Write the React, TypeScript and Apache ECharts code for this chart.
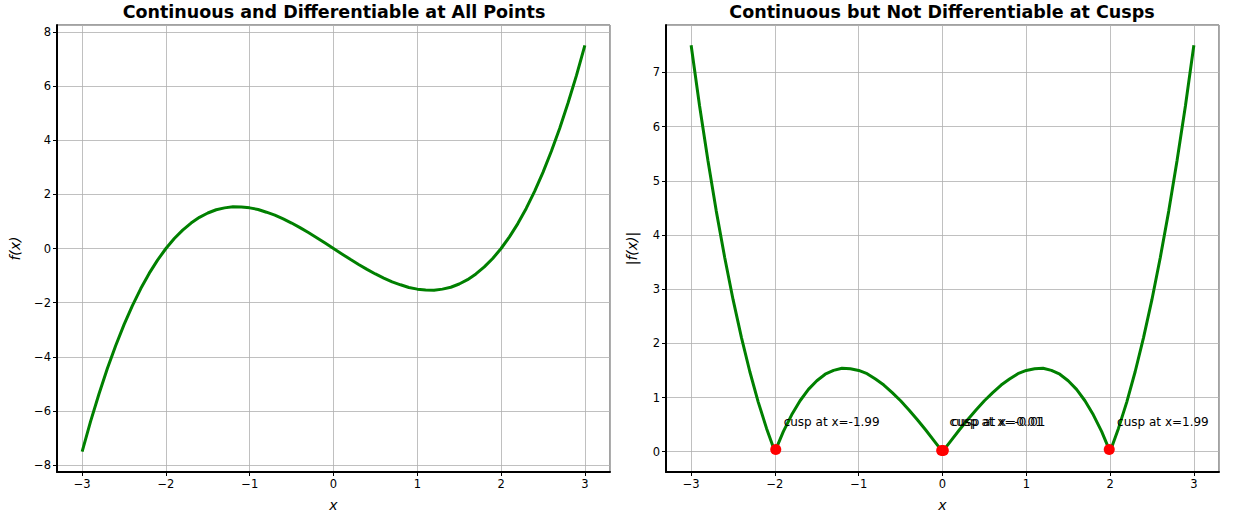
import React, { useEffect, useRef } from 'react';
import * as echarts from 'echarts';

const xValues = [
  -3.0, -2.9, -2.8, -2.7, -2.6, -2.5, -2.4, -2.3, -2.2, -2.1,
  -2.0, -1.9, -1.8, -1.7, -1.6, -1.5, -1.4, -1.3, -1.2, -1.1,
  -1.0, -0.9, -0.8, -0.7, -0.6, -0.5, -0.4, -0.3, -0.2, -0.1,
  0.0, 0.1, 0.2, 0.3, 0.4, 0.5, 0.6, 0.7, 0.8, 0.9,
  1.0, 1.1, 1.2, 1.3, 1.4, 1.5, 1.6, 1.7, 1.8, 1.9,
  2.0, 2.1, 2.2, 2.3, 2.4, 2.5, 2.6, 2.7, 2.8, 2.9, 3.0,
];

const fValues = [
  -7.5, -6.39, -5.38, -4.44, -3.59, -2.81, -2.11, -1.48, -0.92, -0.43,
  0.0, 0.37, 0.68, 0.94, 1.15, 1.31, 1.43, 1.5, 1.54, 1.53,
  1.5, 1.44, 1.34, 1.23, 1.09, 0.94, 0.77, 0.59, 0.4, 0.2,
  0.0, -0.2, -0.4, -0.59, -0.77, -0.94, -1.09, -1.23, -1.34, -1.44,
  -1.5, -1.53, -1.54, -1.5, -1.43, -1.31, -1.15, -0.94, -0.68, -0.37,
  0.0, 0.43, 0.92, 1.48, 2.11, 2.81, 3.59, 4.44, 5.38, 6.39, 7.5,
];

const absValues = [
  7.5, 6.39, 5.38, 4.44, 3.59, 2.81, 2.11, 1.48, 0.92, 0.43,
  0.0, 0.37, 0.68, 0.94, 1.15, 1.31, 1.43, 1.5, 1.54, 1.53,
  1.5, 1.44, 1.34, 1.23, 1.09, 0.94, 0.77, 0.59, 0.4, 0.2,
  0.0, 0.2, 0.4, 0.59, 0.77, 0.94, 1.09, 1.23, 1.34, 1.44,
  1.5, 1.53, 1.54, 1.5, 1.43, 1.31, 1.15, 0.94, 0.68, 0.37,
  0.0, 0.43, 0.92, 1.48, 2.11, 2.81, 3.59, 4.44, 5.38, 6.39, 7.5,
];

const cuspX = [-1.99, -0.01, 0.01, 1.99];
const cuspY = [0.04, 0.02, 0.02, 0.04];
const cuspLabels = ['cusp at x=-1.99', 'cusp at x=-0.01', 'cusp at x=0.01', 'cusp at x=1.99'];
const cuspLabelOffsetX = 0.1;
const cuspLabelY = 0.5;

const titles = ['Continuous and Differentiable at All Points', 'Continuous but Not Differentiable at Cusps'];

const FONT = 'DejaVu Sans';
const fmt = (v: number) => String(v).replace('-', '\u2212');

export default function App() {
  const ref = useRef<HTMLDivElement>(null);
  useEffect(() => {
    if (!ref.current) return;
    const chart = echarts.init(ref.current, undefined, { renderer: 'svg' });

    const labelStyle = {
      show: true,
      showMinLabel: false,
      showMaxLabel: false,
      margin: 6,
      fontFamily: FONT,
      fontSize: 11.5,
      color: '#000',
      formatter: fmt,
    };
    const lineAxis = { show: true, onZero: false, lineStyle: { color: '#000', width: 2 } };
    const tick = { show: true, length: 4, lineStyle: { color: '#000', width: 1 } };
    const split = { show: true, lineStyle: { color: '#b0b0b0', width: 0.8 } };
    const nameStyle = { fontFamily: FONT, fontSize: 14, fontStyle: 'italic', color: '#000' };

    const xAxisBase = (gridIndex: number) => ({
      type: 'value' as const,
      gridIndex,
      min: -3.3,
      max: 3.3,
      splitNumber: 6,
      name: 'x',
      nameLocation: 'middle' as const,
      nameGap: 26,
      nameTextStyle: nameStyle,
      axisLine: lineAxis,
      axisTick: tick,
      axisLabel: labelStyle,
      splitLine: split,
    });

    const titleStyle = { fontFamily: FONT, fontSize: 17.5, fontWeight: 'bold', color: '#000' };

    const option = {
      animation: false,
      backgroundColor: '#fff',
      title: [
        { text: titles[0], left: 334, top: 3, padding: 0, textAlign: 'center', textStyle: titleStyle },
        { text: titles[1], left: 942, top: 3, padding: 0, textAlign: 'center', textStyle: titleStyle },
      ],
      grid: [
        { left: 57, top: 25, width: 553, height: 448, show: true, borderColor: '#444', borderWidth: 1 },
        { left: 666, top: 25, width: 553, height: 448, show: true, borderColor: '#444', borderWidth: 1 },
      ],
      xAxis: [xAxisBase(0), xAxisBase(1)],
      yAxis: [
        {
          type: 'value',
          gridIndex: 0,
          min: -8.25,
          max: 8.25,
          splitNumber: 8,
          name: 'f(x)',
          nameLocation: 'middle',
          nameGap: 35,
          nameRotate: 90,
          nameTextStyle: nameStyle,
          axisLine: lineAxis,
          axisTick: tick,
          axisLabel: labelStyle,
          splitLine: split,
        },
        {
          type: 'value',
          gridIndex: 1,
          min: -0.375,
          max: 7.875,
          splitNumber: 8,
          name: '|f(x)|',
          nameLocation: 'middle',
          nameGap: 27,
          nameRotate: 90,
          nameTextStyle: nameStyle,
          axisLine: lineAxis,
          axisTick: tick,
          axisLabel: labelStyle,
          splitLine: split,
        },
      ],
      series: [
        {
          type: 'line',
          xAxisIndex: 0,
          yAxisIndex: 0,
          data: xValues.map((x, i) => [x, fValues[i]]),
          symbol: 'none',
          lineStyle: { color: '#008000', width: 3 },
          z: 3,
        },
        {
          type: 'line',
          xAxisIndex: 1,
          yAxisIndex: 1,
          data: xValues.map((x, i) => [x, absValues[i]]),
          symbol: 'none',
          lineStyle: { color: '#008000', width: 3 },
          z: 3,
        },
        {
          type: 'scatter',
          xAxisIndex: 1,
          yAxisIndex: 1,
          data: cuspX.map((x, i) => [x, cuspY[i]]),
          symbol: 'circle',
          symbolSize: 11,
          itemStyle: { color: '#ff0000', opacity: 1 },
          z: 4,
        },
        {
          type: 'scatter',
          xAxisIndex: 1,
          yAxisIndex: 1,
          data: cuspX.map((x) => [x + cuspLabelOffsetX, cuspLabelY]),
          symbolSize: 1,
          itemStyle: { color: '#000', opacity: 0 },
          label: {
            show: true,
            position: [0, 4],
            align: 'left',
            verticalAlign: 'bottom',
            fontFamily: FONT,
            fontSize: 12,
            color: '#000',
            opacity: 1,
            textBorderWidth: 0,
            formatter: (p: any) => cuspLabels[p.dataIndex],
          },
          labelLayout: { hideOverlap: false },
          z: 5,
        },
      ],
    };

    chart.setOption(option as any);
    return () => chart.dispose();
  }, []);

  return (
    <div
      ref={ref}
      style={{ position: 'fixed', left: 0, top: 0, width: 1260, height: 517, background: '#fff' }}
    />
  );
}
